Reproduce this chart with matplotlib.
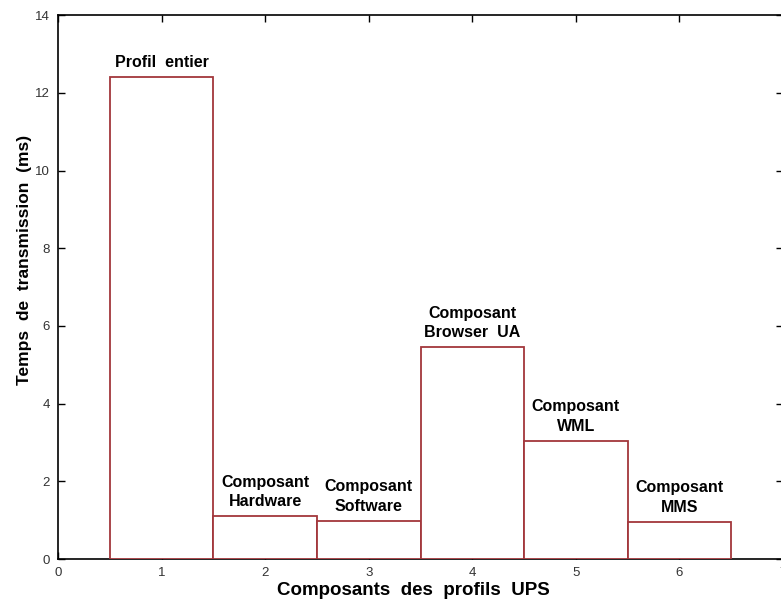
import matplotlib.pyplot as plt

positions = [1, 2, 3, 4, 5, 6]
times_ms = [12.42, 1.10, 0.98, 5.45, 3.04, 0.96]
labels = ["Profil  entier", "Composant\nHardware", "Composant\nSoftware",
          "Composant\nBrowser  UA", "Composant\nWML", "Composant\nMMS"]

plt.rcParams['font.family'] = ['Liberation Sans', 'DejaVu Sans']

fig = plt.figure(figsize=(7.81, 6.05), dpi=100)
ax = fig.add_axes([0.0743, 0.076, 0.9283, 0.899])

ax.bar(positions, times_ms, width=1.0, color='white', edgecolor='#a3373c',
       linewidth=1.3, zorder=3)

for x, h, lab in zip(positions, times_ms, labels):
    ax.annotate(lab, (x, h), xytext=(0, 5), textcoords='offset points',
                ha='center', va='bottom', fontsize=11.5, fontweight='bold',
                linespacing=1.4, zorder=4)

ax.set_xlim(0, 7)
ax.set_ylim(0, 14)
ax.set_xticks(range(0, 8))
ax.set_yticks(range(0, 15, 2))
ax.tick_params(direction='in', top=True, right=True, length=5, width=1,
               labelsize=9.5, labelcolor='#333333', pad=6)
for s in ax.spines.values():
    s.set_linewidth(1.2)

ax.set_xlabel("Composants  des  profils  UPS", fontsize=13.5, fontweight='bold',
              labelpad=2)
ax.xaxis.set_label_coords(0.49, -0.042)
ax.set_ylabel("Temps  de  transmission  (ms)", fontsize=12.5, fontweight='bold')
ax.yaxis.set_label_coords(-0.036, 0.55)

fig.savefig("out.png", dpi=100)
